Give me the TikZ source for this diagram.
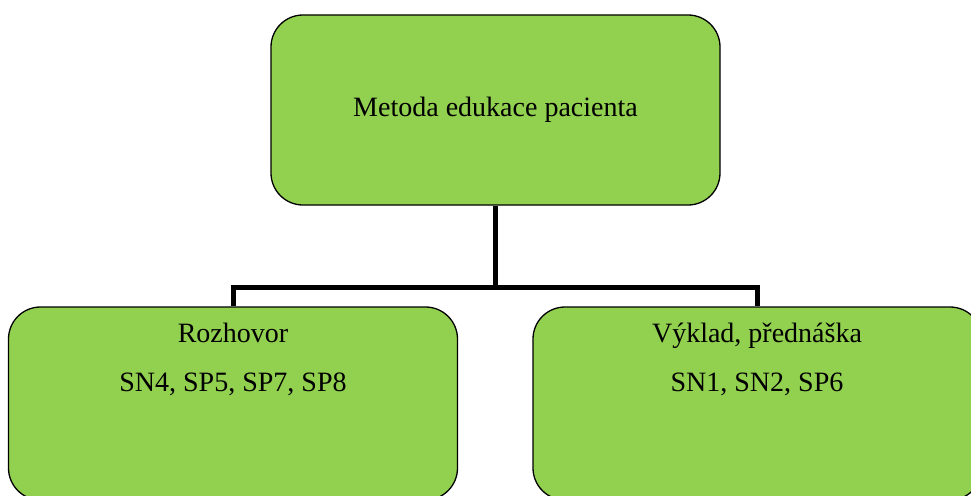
\documentclass[tikz,border=0pt]{standalone}
\usepackage{fontspec}
\setmainfont{Liberation Serif}
\usetikzlibrary{positioning}
\definecolor{boxgreen}{HTML}{92D050}
\tikzset{
  box/.style={draw=black,line width=1.3pt,fill=boxgreen,rounded corners=32pt,
    minimum width=449pt,inner sep=0pt,font=\fontsize{28}{33}\selectfont},
  txt/.style={anchor=base,inner sep=0pt,font=\fontsize{28}{33}\selectfont},
  conn/.style={draw=black,line width=5pt,line join=miter}
}
\begin{document}
\begin{tikzpicture}[x=1pt,y=-1pt]
  \useasboundingbox (0,0) rectangle (971,495);
  \clip (0,0) rectangle (971,495);
  \node[box,minimum height=190pt] (top) at (495.5,110) {Metoda edukace pacienta};
  \node[box,minimum height=193pt] (left) at (233,403.5) {};
  \node[box,minimum height=193pt] (right) at (757.5,403.5) {};
  \coordinate (lj) at (233,287);
  \coordinate (rj) at (757,287);
  \draw[conn] (top.south) -- (top.south |- lj);
  \draw[conn] (lj |- left.north) -- (lj) -- (rj) -- (rj |- right.north);
  \node[txt] (rozh) at (233,342) {Rozhovor};
  \node[txt] (rozhsn) at (233,391) {SN4, SP5, SP7, SP8};
  \node[txt] (vykl) at (757,342) {Výklad, přednáška};
  \node[txt] (vyklsn) at (757,391) {SN1, SN2, SP6};
\end{tikzpicture}
\end{document}
